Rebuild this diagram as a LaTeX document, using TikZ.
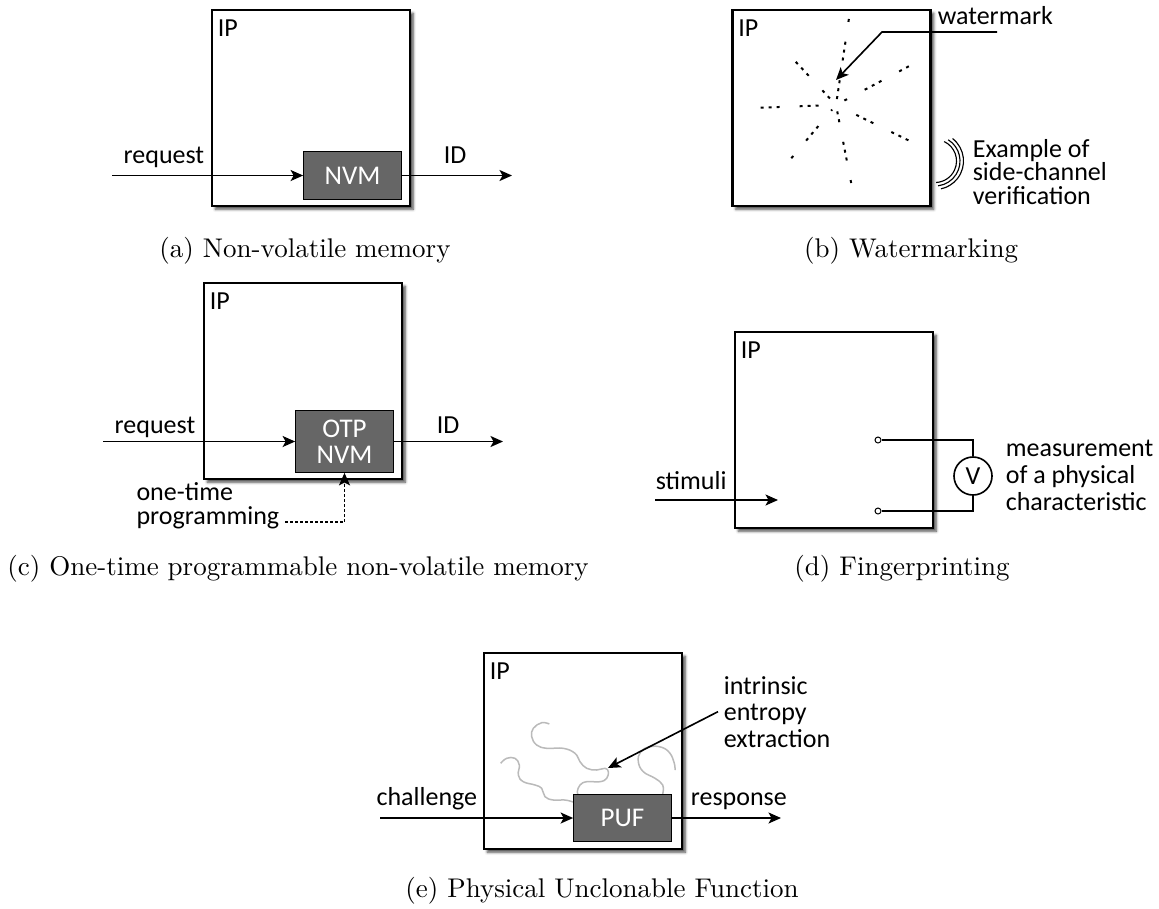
\documentclass[tikz,border=0pt]{standalone}
\usepackage{fontspec}
\usepackage{tikz}
\usetikzlibrary{positioning}
\usetikzlibrary{arrows.meta}
\usetikzlibrary{shadows.blur}
\newfontfamily\sansf{Carlito}

\begin{document}
\begin{tikzpicture}[x=0.4pt, y=-0.4pt, >={Stealth[length=5pt, width=4.4pt, inset=1.2pt]}, line width=0.65pt,
	ipbox/.style={draw=black, line width=1pt, fill=white, minimum width=79.2pt, minimum height=78.4pt, inner sep=0pt,
		blur shadow={shadow xshift=1.3pt, shadow yshift=-1.3pt, shadow blur radius=1.1pt, shadow opacity=70}},
	core/.style={draw=black, line width=0.5pt, fill=black!60, text=white, font=\sansf\fontsize{10.8}{10.4}\selectfont,
		minimum width=39pt, minimum height=19pt, inner sep=0pt, align=center},
	lbl/.style={font=\sansf\fontsize{10.4}{10.6}\selectfont, inner sep=0pt, align=left},
	subcap/.style={font=\fontsize{10.8}{12}\selectfont, inner sep=0pt},
	mark line/.style={line width=0.8pt, dash pattern=on 1.2pt off 2pt on 1.2pt off 2pt on 1.2pt off 8pt},
	noise/.style={line width=0.6pt, draw=black!27},
	term/.style={draw=black, fill=white, circle, inner sep=0pt, minimum size=2.4pt, line width=0.4pt}]

  \useasboundingbox (0,0) rectangle (1159,908);

  % (a)
  \node[ipbox] (a-ip) at (311,108) {};
  \node[lbl] (a-iplbl) [below right=4pt and 2.5pt of a-ip.north west] {IP};
  \node[core] (a-nvm) at (352.5,175.5) {NVM};
  \coordinate (a-in) at (112,175.5);
  \coordinate (a-out) at (512,175.5);
  \node[lbl, anchor=base east] (a-req) at (205,163) {request};
  \node[lbl, anchor=base west] (a-id) at (443,163) {ID};
  \path[->] (a-in) edge (a-nvm);
  \path[->] (a-nvm) edge (a-out);
  \node[subcap, anchor=base] (a-cap) at (305,257) {(a) Non-volatile memory};

  % (b)
  \node[ipbox] (b-ip) at (831.5,108) {};
  \node[lbl] (b-iplbl) [below right=4pt and 2.5pt of b-ip.north west] {IP};
  \coordinate (b-c) at (836,105);
  \foreach \ang/\len/\ph in {-81.5/88/0, -28/86/5, 26/82/9, 79/83/3, 130/72/7, 178/94/11, -133/73/2}
    \draw[mark line, dash phase=\ph pt] (b-c) ++(\ang:6) -- ++(\ang:\len-6);
  \node[lbl, anchor=base west] (b-wm) at (937,24) {watermark};
  \coordinate (b-wmend) at (997,32);
  \coordinate (b-bend) at (882,32);
  \coordinate (b-mark) at (836,80);
  \draw[->] (b-wmend) -- (b-bend) -- (b-mark);
  \coordinate (b-sc) at (935,161);
  \foreach \r/\a/\b in {21.5/-65/87, 25/-58/83, 28.5/-52/78}
    \draw[line width=0.45pt] (b-sc) ++(\a:\r) arc[start angle=\a, end angle=\b, radius=\r];
  \node[lbl, anchor=base west, font=\sansf\fontsize{10.4}{9.4}\selectfont] (b-sctext) at (972,204) {Example of\\side-channel\\verification};
  \node[subcap, anchor=base] (b-cap) at (911,257) {(b) Watermarking};

  % (c)
  \node[ipbox] (c-ip) at (303,381) {};
  \node[lbl] (c-iplbl) [below right=4pt and 2.5pt of c-ip.north west] {IP};
  \node[core, minimum height=24.6pt] (c-otp) at (344.5,441.5) {OTP\\NVM};
  \coordinate (c-in) at (103,441.5);
  \coordinate (c-out) at (503,441.5);
  \node[lbl, anchor=base east] (c-req) at (196,433) {request};
  \node[lbl, anchor=base west] (c-id) at (436,433) {ID};
  \path[->] (c-in) edge (c-otp);
  \path[->] (c-otp) edge (c-out);
  \node[lbl, anchor=base east] (c-prog) at (280,524) {programming};
  \node[lbl, anchor=base west] (c-once) at ([yshift=9.4pt]c-prog.base west) {one-time};
  \draw[->, dash pattern=on 1pt off 1pt] ([xshift=2pt, yshift=0.8pt]c-prog.base east) -| (c-otp);
  \node[subcap, anchor=base] (c-cap) at (298,575) {(c) One-time programmable non-volatile memory};

  % (d)
  \node[ipbox] (d-ip) at (834,430) {};
  \node[lbl] (d-iplbl) [below right=4pt and 2.5pt of d-ip.north west] {IP};
  \coordinate (d-in) at (655,500);
  \coordinate (d-stim) at (778,500);
  \node[lbl, anchor=base west] (d-st) at (655,489) {stimuli};
  \draw[->] (d-in) -- (d-stim);
  \node[term] (d-t1) at (878,440) {};
  \node[term] (d-t2) at (878,511) {};
  \node[draw=black, circle, minimum size=15.2pt, inner sep=0pt, font=\sansf\fontsize{10.4}{10.6}\selectfont] (d-v) at (973,476) {V};
  \draw (d-t1) -- (d-t1 -| d-v) -- (d-v);
  \draw (d-t2) -- (d-t2 -| d-v) -- (d-v);
  \node[lbl, anchor=base west, font=\sansf\fontsize{10.4}{10.8}\selectfont] (d-meas) at (1005,510) {measurement\\of a physical\\characteristic};
  \node[subcap, anchor=base] (d-cap) at (902,575) {(d) Fingerprinting};

  % (e)
  \node[ipbox] (e-ip) at (583,751) {};
  \node[lbl] (e-iplbl) [below right=4pt and 2.5pt of e-ip.north west] {IP};
  \draw[noise] plot[smooth, tension=0.7] coordinates {(549.3,724) (541.7,722.7) (533.3,728.3) (531.7,736.7) (536.7,745) (546.7,748.3) (563.3,748.3) (575,753.3) (580,761.7) (586.7,768.3) (596.7,770) (605,768.3) (608.3,771.7) (606.7,778.3) (600,781.7) (586.7,781.7) (580,785) (577.3,791.7) (578.3,795)};
  \draw[noise] plot[smooth, tension=0.7] coordinates {(500.7,763.3) (506.7,758.3) (515,758.3) (519.3,765) (518.3,775) (523.3,781.7) (535,785) (541.7,788.3) (545,796.7) (553.3,800) (565,800) (573,802)};
  \draw[noise] plot[smooth, tension=0.7] coordinates {(662.7,794) (662.7,785) (655,778.3) (643.3,771.7) (638.3,761.7) (640.7,751.7) (650,746.7) (661.7,747.3) (670,753.3) (674.3,763.3) (675,770)};
  \node[core] (e-puf) at (622.5,818) {PUF};
  \coordinate (e-in) at (380,818);
  \coordinate (e-out) at (781,818);
  \node[lbl, anchor=base east] (e-ch) at (478,805) {challenge};
  \node[lbl, anchor=base west] (e-resp) at (690,805) {response};
  \path[->] (e-in) edge (e-puf);
  \path[->] (e-puf) edge (e-out);
  \node[lbl, anchor=base west] (e-ent) at (723,747) {intrinsic\\entropy\\extraction};
  \coordinate (e-hit) at (608,768);
  \draw[->] ([xshift=-2pt]e-ent.west) -- (e-hit);
  \node[subcap, anchor=base] (e-cap) at (602,897) {(e) Physical Unclonable Function};
\end{tikzpicture}
\end{document}
